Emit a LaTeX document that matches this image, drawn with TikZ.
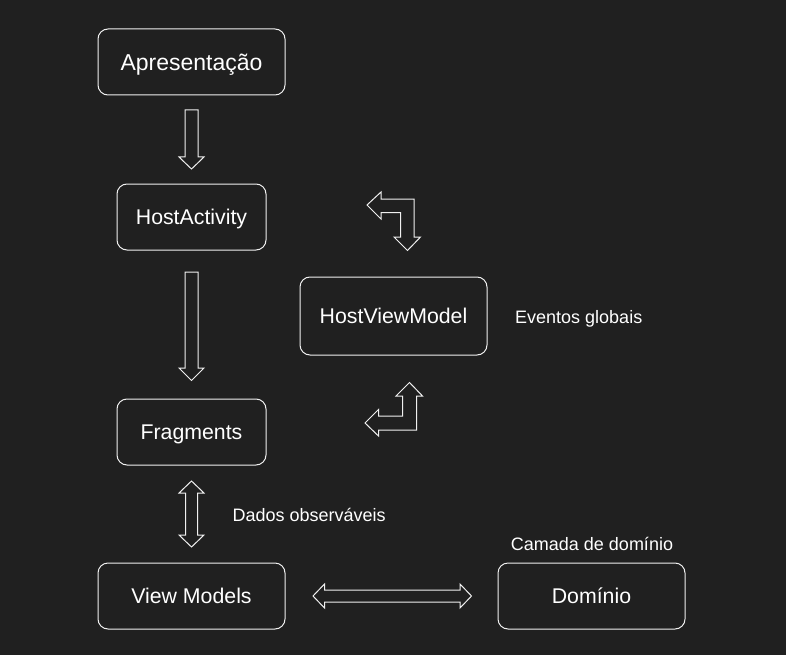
\documentclass[tikz,border=0pt]{standalone}
\usepackage{fontspec}
\setmainfont{Liberation Sans}
\usepackage{tikz}
\usetikzlibrary{
	arrows.meta,
	positioning,
	calc
}
\definecolor{bgdark}{HTML}{202020}
\definecolor{linegray}{HTML}{F0F0F0}

\begin{document}
\begin{tikzpicture}[
		x=1pt, y=-1pt,
		box/.style={draw=linegray, rectangle, rounded corners=10pt, line width=1pt, align=center, text=white, minimum width=187pt, minimum height=66pt, inner sep=0pt, text height=15.3pt, text depth=0pt, font=\fontsize{21.3}{25}\selectfont},
		bigbox/.style={box, text height=16.5pt, font=\fontsize{23}{27}\selectfont},
		smallbox/.style={box, minimum width=149pt},
		label/.style={text=white, inner sep=0pt, text height=12.9pt, text depth=0pt, font=\fontsize{18}{21}\selectfont},
		blockarrow/.style={draw=linegray, line width=1pt, line join=miter}
		]
		
		% --- Background ---
		\fill[bgdark] (0,0) rectangle (786,655);
		\useasboundingbox (0,0) rectangle (786,655);
		
		% --- Left column ---
		\node[bigbox] (apresentacao) at (191.5,62) {Apresentação};
		\node[smallbox] (hostactivity) at (191.5,217) {HostActivity};
		\node[smallbox] (fragments) at (191.5,432) {Fragments};
		\node[box] (viewmodels) at (191.5,596) {View Models};
		
		% --- Right side ---
		\node[box, minimum height=78pt] (hostviewmodel) at (393.5,316) {HostViewModel};
		\node[box] (dominio) at (591.5,596) {Domínio};
		
		% --- Labels ---
		\node[label, anchor=west] (eventos) at (515,317) {Eventos globais};
		\node[label, anchor=west] (dados) at (232.5,515) {Dados observáveis};
		\node[label] (camada) at (592,544) {Camada de domínio};
		
		% --- Block arrows ---
		\draw[blockarrow] (185,110) -- (198,110) -- (198,157) -- (204,157) -- (191.5,169)
			-- (179,157) -- (185,157) -- cycle;
		\draw[blockarrow] (185,272) -- (198,272) -- (198,368) -- (204,368) -- (191.5,380.5)
			-- (179,368) -- (185,368) -- cycle;
		\draw[blockarrow] (191.5,481) -- (204,493) -- (197.5,493) -- (197.5,535) -- (204,535)
			-- (191.5,547) -- (179,535) -- (185.5,535) -- (185.5,493) -- (179,493) -- cycle;
		\draw[blockarrow] (313,596) -- (324.5,584) -- (324.5,590) -- (460,590) -- (460,584)
			-- (471.5,596) -- (460,608) -- (460,602) -- (324.5,602) -- (324.5,608) -- cycle;
		
		% --- Bent arrows ---
		\draw[blockarrow] (367,205) -- (381,192) -- (381,199) -- (414,199) -- (414,237)
			-- (420.5,237) -- (407.5,250.5) -- (394,237) -- (400.5,237) -- (400.5,212.5)
			-- (381,212.5) -- (381,219) -- cycle;
		\draw[blockarrow] (409.5,382.5) -- (422.5,396) -- (416.5,396) -- (416.5,430)
			-- (378.5,430) -- (378.5,436) -- (365,423) -- (378.5,409.5) -- (378.5,416)
			-- (402.5,416) -- (402.5,396) -- (396,396) -- cycle;
		
	\end{tikzpicture}
\end{document}
